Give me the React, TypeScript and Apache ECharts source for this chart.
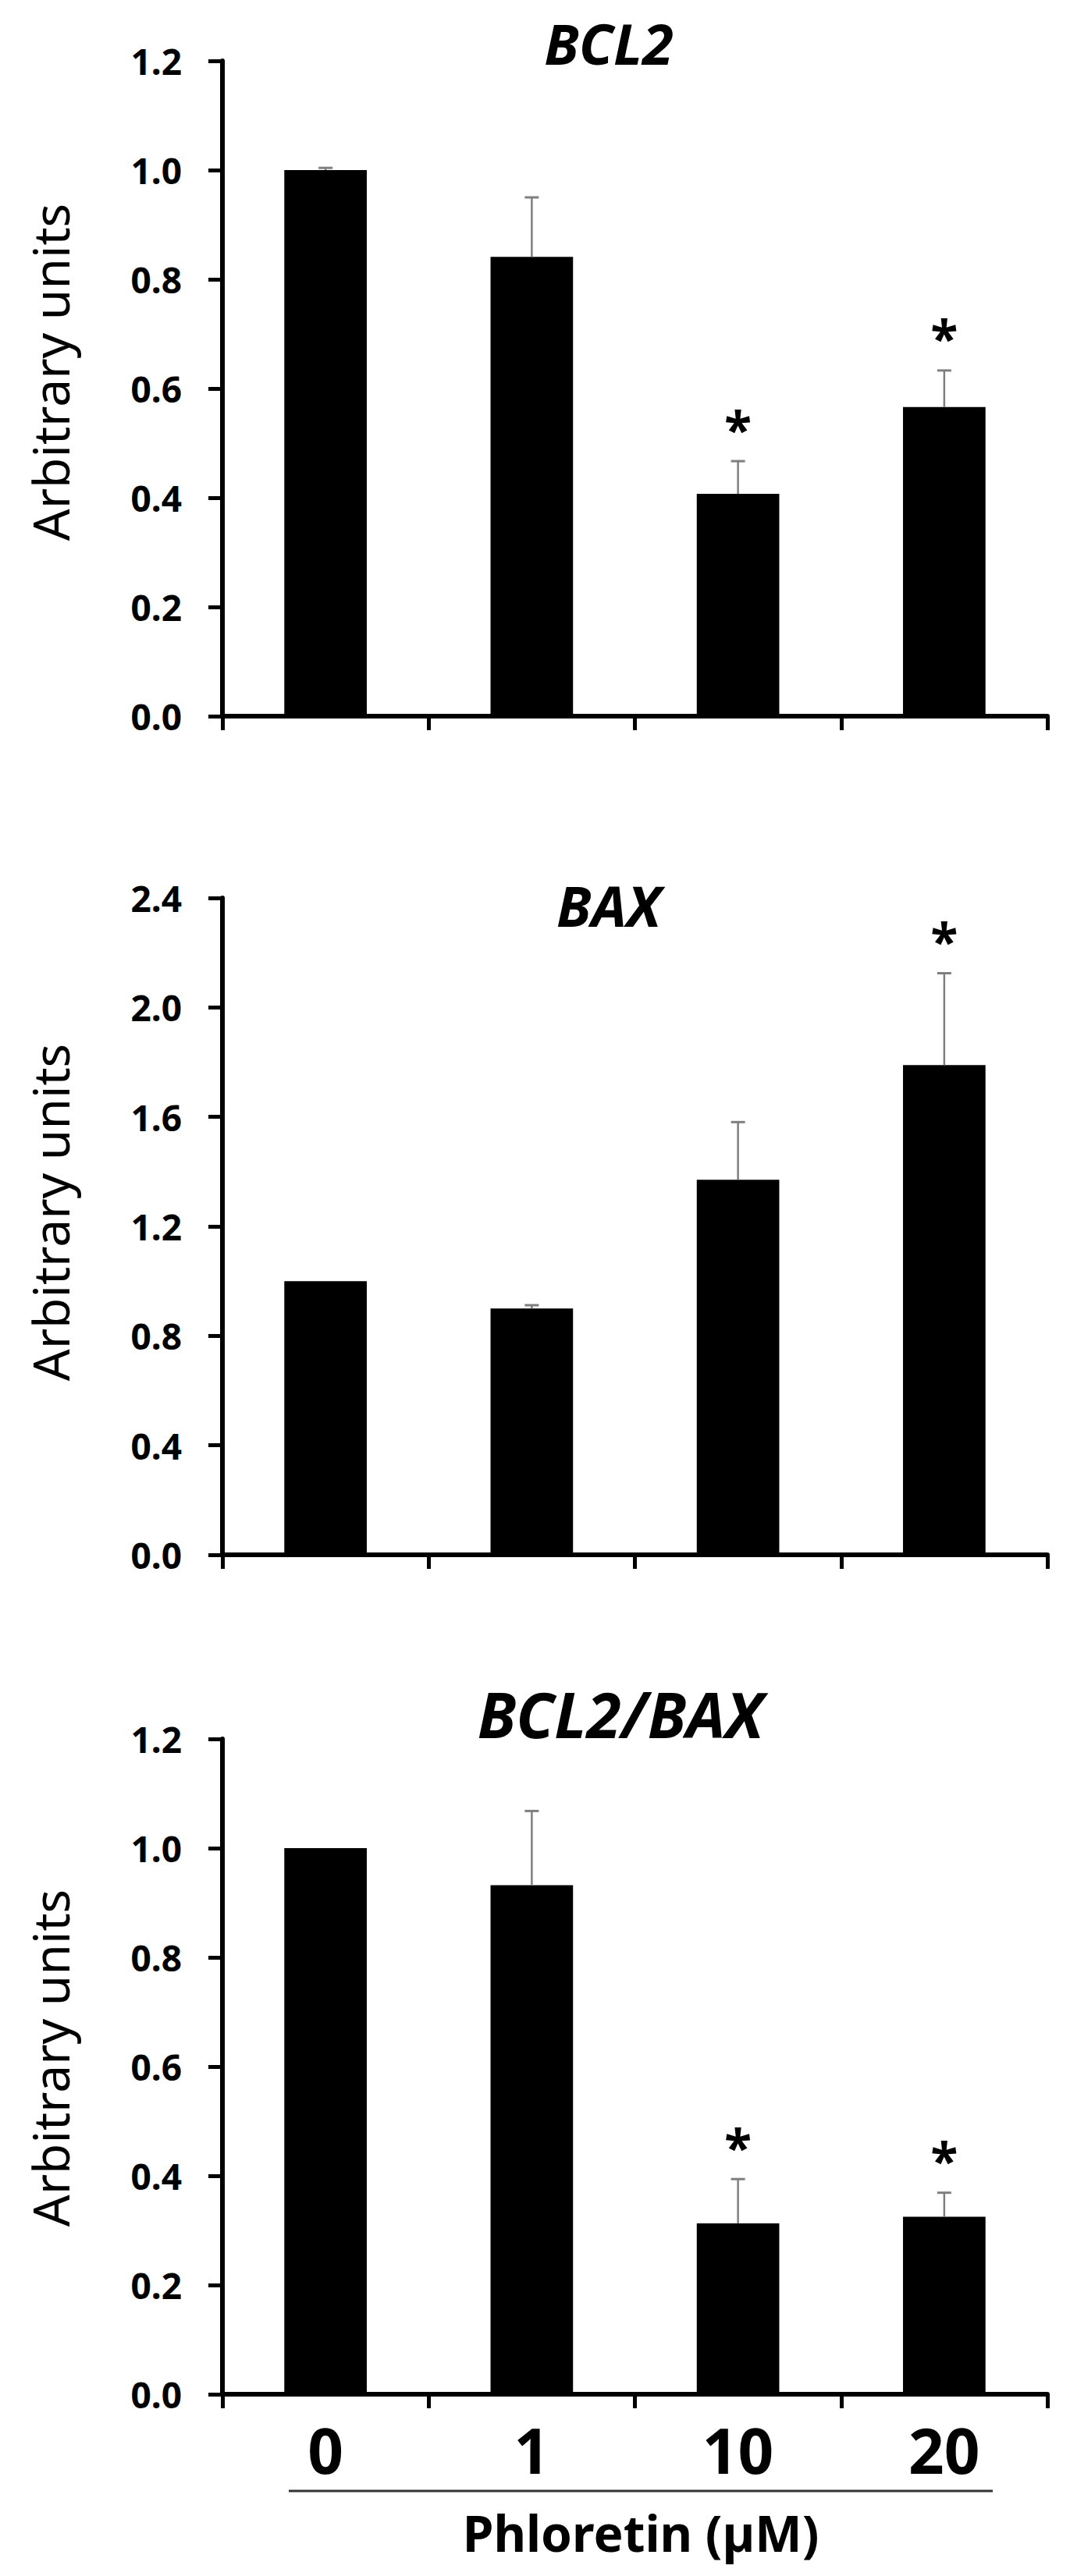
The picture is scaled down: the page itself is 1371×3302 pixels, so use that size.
import React, { useEffect, useRef } from "react";
import * as echarts from "echarts";

// ---- Data ----
const categories = ["0", "1", "10", "20"];
const panelTitles = ["BCL2", "BAX", "BCL2/BAX"];

const bcl2Means = [1.0, 0.841, 0.407, 0.566];
const bcl2Errors = [0.004, 0.109, 0.06, 0.067];
const bcl2Stars = [0, 0, 1, 1];

const baxMeans = [1.0, 0.9, 1.37, 1.789];
const baxErrors = [0, 0.012, 0.211, 0.336];
const baxStars = [0, 0, 0, 1];

const ratioMeans = [1.0, 0.932, 0.313, 0.325];
const ratioErrors = [0, 0.136, 0.081, 0.044];
const ratioStars = [0, 0, 1, 1];

const yMaxes = [1.2, 2.4, 1.2];
const yIntervals = [0.2, 0.4, 0.2];
const yAxisName = "Arbitrary units";
const xAxisTitle = "Phloretin (µM)";

const FONT = "'Noto Sans', 'Open Sans', sans-serif";

export default function App() {
  const ref = useRef<HTMLDivElement>(null);

  useEffect(() => {
    document.body.style.margin = "0";
    if (!ref.current) return;
    const chart = echarts.init(ref.current, undefined, { renderer: "svg" });

    const panels = [
      { means: bcl2Means, errors: bcl2Errors, stars: bcl2Stars },
      { means: baxMeans, errors: baxErrors, stars: baxStars },
      { means: ratioMeans, errors: ratioErrors, stars: ratioStars },
    ];
    const gridTops = [78, 1151, 2229];
    const gridHeights = [840, 842, 840];
    const titleYs = [55, 1160, 2196];
    const titleXs = [780, 780, 795];
    const titleSizes = [72, 72, 80];
    const nameYs = [477, 1554, 2638];

    const grids = panels.map((_, i) => ({
      left: 285,
      top: gridTops[i],
      width: 1057,
      height: gridHeights[i],
    }));

    const xAxes = panels.map((_, i) => ({
      type: "category",
      gridIndex: i,
      data: categories,
      axisLine: { show: true, lineStyle: { color: "#000", width: 6 } },
      axisTick: { show: true, length: 18, lineStyle: { color: "#000", width: 5 } },
      axisLabel: {
        show: i === 2,
        color: "#000",
        fontSize: 80,
        fontWeight: "bold",
        fontFamily: FONT,
        margin: 30,
      },
      splitLine: { show: false },
    }));

    const yAxes = panels.map((_, i) => ({
      type: "value",
      gridIndex: i,
      min: 0,
      max: yMaxes[i],
      interval: yIntervals[i],
      axisLine: { show: true, lineStyle: { color: "#000", width: 6 } },
      axisTick: { show: true, length: 18, lineStyle: { color: "#000", width: 5 } },
      axisLabel: {
        color: "#000",
        fontSize: 46,
        fontWeight: "bold",
        fontFamily: FONT,
        margin: 52,
        formatter: (v: number) => v.toFixed(1),
      },
      splitLine: { show: false },
    }));

    const series: any[] = [];
    panels.forEach((p, i) => {
      series.push({
        type: "bar",
        xAxisIndex: i,
        yAxisIndex: i,
        data: p.means,
        barWidth: "40%",
        itemStyle: { color: "#000" },
        z: 2,
      });
      series.push({
        type: "custom",
        xAxisIndex: i,
        yAxisIndex: i,
        z: 5,
        data: p.means.map((m, k) => [k, m, p.errors[k], p.stars[k]]),
        renderItem: (params: any, api: any) => {
          const x = api.value(0);
          const m = api.value(1);
          const e = api.value(2);
          const s = api.value(3);
          const base = api.coord([x, m]);
          const top = api.coord([x, m + e]);
          const children: any[] = [];
          if (e > 0) {
            children.push({
              type: "line",
              shape: { x1: base[0], y1: base[1], x2: top[0], y2: top[1] },
              style: { stroke: "#7f7f7f", lineWidth: 2.5 },
            });
            children.push({
              type: "line",
              shape: { x1: top[0] - 9, y1: top[1], x2: top[0] + 9, y2: top[1] },
              style: { stroke: "#7f7f7f", lineWidth: 3 },
            });
          }
          if (s) {
            children.push({
              type: "text",
              style: {
                text: "*",
                x: top[0],
                y: top[1] - 42,
                align: "center",
                verticalAlign: "middle",
                fontSize: 64,
                fontWeight: "bold",
                fontFamily: FONT,
                fill: "#000",
              },
            });
          }
          return { type: "group", children };
        },
      });
    });

    const graphics: any[] = [];
    panelTitles.forEach((t, i) => {
      graphics.push({
        type: "text",
        x: titleXs[i],
        y: titleYs[i],
        style: {
          text: t,
          align: "center",
          verticalAlign: "middle",
          fontSize: titleSizes[i],
          fontWeight: "bold",
          fontStyle: "italic",
          fontFamily: FONT,
          fill: "#000",
        },
      });
      graphics.push({
        type: "text",
        x: 64,
        y: nameYs[i],
        rotation: Math.PI / 2,
        style: {
          text: yAxisName,
          align: "center",
          verticalAlign: "middle",
          fontSize: 64,
          fontWeight: "normal",
          fontFamily: FONT,
          fill: "#000",
        },
      });
    });
    graphics.push({
      type: "line",
      shape: { x1: 370, y1: 3193, x2: 1272, y2: 3193 },
      style: { stroke: "#333", lineWidth: 3 },
    });
    graphics.push({
      type: "text",
      x: 821,
      y: 3246,
      style: {
        text: xAxisTitle,
        align: "center",
        verticalAlign: "middle",
        fontSize: 64,
        fontWeight: "bold",
        fontFamily: FONT,
        fill: "#000",
      },
    });

    chart.setOption({
      animation: false,
      backgroundColor: "#fff",
      grid: grids,
      xAxis: xAxes,
      yAxis: yAxes,
      series,
      graphic: graphics,
    });

    return () => chart.dispose();
  }, []);

  return <div ref={ref} style={{ width: 1371, height: 3302 }} />;
}
